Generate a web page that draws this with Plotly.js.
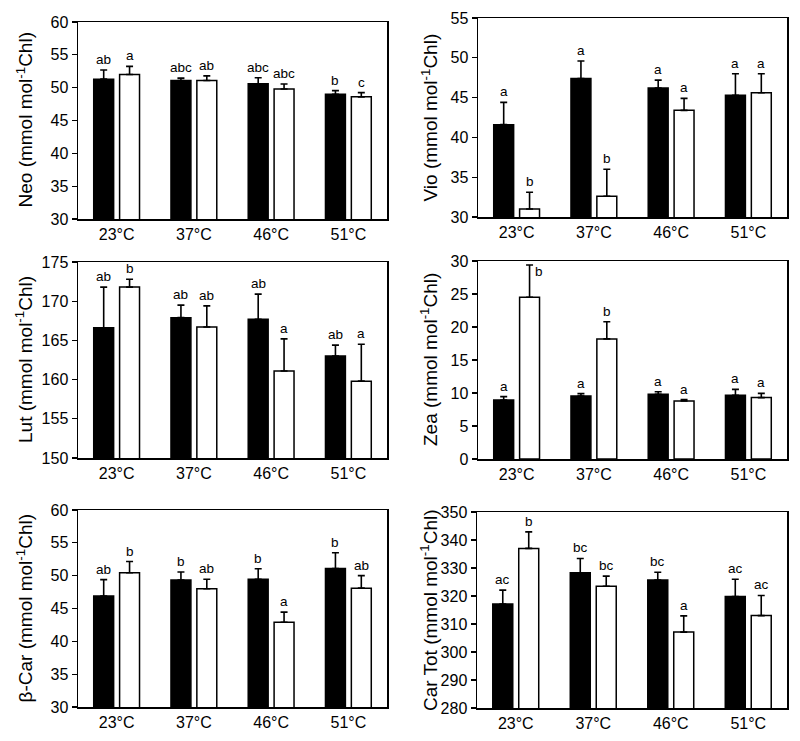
<!DOCTYPE html>
<html>
<head>
<meta charset="utf-8">
<script src="https://cdn.plot.ly/plotly-3.0.1.min.js"></script>
<style>html,body{margin:0;padding:0;background:#fff;}#chart{width:800px;height:741px;}</style>
</head>
<body>
<div id="chart"></div>
<script>
// ---- data ----
const categories = ['23°C', '37°C', '46°C', '51°C'];

const neoDark = [51.3, 51.1, 50.6, 49.0];
const neoDarkErr = [1.4, 0.35, 0.9, 0.55];
const neoLight = [52.0, 51.1, 49.8, 48.6];
const neoLightErr = [1.25, 0.7, 0.75, 0.65];
const neoDarkLbl = ['ab', 'abc', 'abc', 'b'];
const neoLightLbl = ['a', 'ab', 'abc', 'c'];

const vioDark = [41.6, 47.4, 46.2, 45.3];
const vioDarkErr = [2.8, 2.2, 1.0, 2.7];
const vioLight = [31.0, 32.6, 43.4, 45.6];
const vioLightErr = [2.1, 3.4, 1.5, 2.4];
const vioDarkLbl = ['a', 'a', 'a', 'a'];
const vioLightLbl = ['b', 'b', 'a', 'a'];

const lutDark = [166.6, 167.9, 167.7, 163.0];
const lutDarkErr = [5.2, 1.6, 3.2, 1.4];
const lutLight = [171.8, 166.7, 161.1, 159.8];
const lutLightErr = [1.0, 2.7, 4.1, 4.7];
const lutDarkLbl = ['ab', 'ab', 'ab', 'ab'];
const lutLightLbl = ['b', 'ab', 'a', 'a'];

const zeaDark = [8.95, 9.55, 9.8, 9.65];
const zeaDarkErr = [0.5, 0.35, 0.4, 0.9];
const zeaLight = [24.5, 18.2, 8.8, 9.3];
const zeaLightErr = [4.9, 2.6, 0.2, 0.65];
const zeaDarkLbl = ['a', 'a', 'a', 'a'];
const zeaLightLbl = ['b', 'b', 'a', 'a'];

const carDark = [46.9, 49.35, 49.45, 51.1];
const carDarkErr = [2.5, 1.2, 1.6, 2.4];
const carLight = [50.45, 48.0, 42.9, 48.1];
const carLightErr = [1.7, 1.45, 1.55, 1.9];
const carDarkLbl = ['ab', 'b', 'b', 'b'];
const carLightLbl = ['b', 'ab', 'a', 'ab'];

const totDark = [317.1, 328.3, 325.7, 319.8];
const totDarkErr = [5.0, 5.1, 2.8, 6.2];
const totLight = [337.0, 323.5, 307.1, 313.0];
const totLightErr = [5.9, 3.6, 5.8, 7.2];
const totDarkLbl = ['ac', 'bc', 'bc', 'ac'];
const totLightLbl = ['b', 'bc', 'a', 'ac'];

const panelTitles = [
  'Neo (mmol mol<sup>-1</sup>Chl)',
  'Vio (mmol mol<sup>-1</sup>Chl)',
  'Lut (mmol mol<sup>-1</sup>Chl)',
  'Zea (mmol mol<sup>-1</sup>Chl)',
  'β-Car (mmol mol<sup>-1</sup>Chl)',
  'Car Tot (mmol mol<sup>-1</sup>Chl)'
];
const yRanges = [[30, 60], [30, 55], [150, 175], [0, 30], [30, 60], [280, 350]];
const yDticks = [5, 5, 5, 5, 5, 10];

// ---- build ----
const panels = [
  [neoDark, neoDarkErr, neoLight, neoLightErr, neoDarkLbl, neoLightLbl],
  [vioDark, vioDarkErr, vioLight, vioLightErr, vioDarkLbl, vioLightLbl],
  [lutDark, lutDarkErr, lutLight, lutLightErr, lutDarkLbl, lutLightLbl],
  [zeaDark, zeaDarkErr, zeaLight, zeaLightErr, zeaDarkLbl, zeaLightLbl],
  [carDark, carDarkErr, carLight, carLightErr, carDarkLbl, carLightLbl],
  [totDark, totDarkErr, totLight, totLightErr, totDarkLbl, totLightLbl]
];

const W = 800, H = 741;
// pixel boxes of plot areas [left, right, top, bottom]
const boxes = [
  [78, 387, 22, 219], [478, 787, 18, 217],
  [78, 387, 262, 458], [478, 787, 261, 459],
  [78, 387, 510, 707], [477, 787, 512, 708]
];
// horizontal pixel centre of the y titles, per column
const titleX = [24, 429];

const FONT = 'Liberation Sans, Arial, Helvetica, sans-serif';
const bargap = 0.33, bargroupgap = 0.23;
const offset = (1 - bargap) / 4;

const data = [];
const annotations = [];
const layout = {
  width: W, height: H,
  margin: {l: 0, r: 0, t: 0, b: 0},
  paper_bgcolor: '#fff', plot_bgcolor: '#fff',
  showlegend: false,
  barmode: 'group', bargap: bargap, bargroupgap: bargroupgap,
  font: {family: FONT, color: '#000', size: 16},
  annotations: annotations
};

panels.forEach((p, i) => {
  const n = i + 1;
  const xa = 'x' + (n === 1 ? '' : n), ya = 'y' + (n === 1 ? '' : n);
  const [dark, darkErr, light, lightErr, darkLbl, lightLbl] = p;
  const zeros = dark.map(() => 0);
  const errStyle = (arr) => ({type: 'data', symmetric: false, array: arr, arrayminus: zeros,
    color: '#000', thickness: 1.6, width: 3.5, visible: true});
  data.push({type: 'bar', x: categories, y: dark, xaxis: xa, yaxis: ya,
    marker: {color: '#000', line: {color: '#000', width: 1.5}}, error_y: errStyle(darkErr)});
  data.push({type: 'bar', x: categories, y: light, xaxis: xa, yaxis: ya,
    marker: {color: '#fff', line: {color: '#000', width: 1.5}}, error_y: errStyle(lightErr)});

  const b = boxes[i];
  const xKey = 'xaxis' + (n === 1 ? '' : n), yKey = 'yaxis' + (n === 1 ? '' : n);
  layout[xKey] = {
    domain: [b[0] / W, b[1] / W], anchor: ya, type: 'category',
    range: [-0.5, 3.5], showline: true, mirror: true, linecolor: '#000', linewidth: 1.5,
    ticks: '', showgrid: false, zeroline: false, fixedrange: true,
    tickfont: {family: FONT, size: 16, color: '#000'}
  };
  layout[yKey] = {
    domain: [1 - b[3] / H, 1 - b[2] / H], anchor: xa,
    range: yRanges[i], dtick: yDticks[i], tick0: 0,
    showline: true, mirror: true, linecolor: '#000', linewidth: 1.5,
    ticks: 'outside', ticklen: 5, tickwidth: 1.3, tickcolor: '#000',
    showgrid: false, zeroline: false, fixedrange: true,
    tickfont: {family: FONT, size: 16, color: '#000'}
  };

  // y-axis title (placed at a fixed column position like the original)
  annotations.push({
    xref: 'paper', yref: 'paper',
    x: titleX[i % 2] / W, y: 1 - (b[2] + b[3]) / 2 / H,
    xanchor: 'center', yanchor: 'middle', textangle: -90,
    text: panelTitles[i], showarrow: false,
    font: {family: FONT, size: 19, color: '#000'}
  });

  const yr = yRanges[i];
  const span = yr[1] - yr[0];
  const addLbl = (vals, errs, lbls, side) => {
    vals.forEach((v, k) => {
      const top = v + errs[k];
      const crowded = top + 0.07 * span > yr[1];
      annotations.push({
        xref: xa, yref: ya, x: k + side * offset, y: top,
        text: lbls[k], showarrow: false,
        xanchor: crowded ? 'left' : 'center',
        yanchor: crowded ? 'top' : 'bottom',
        xshift: crowded ? 3 : 0, yshift: crowded ? 3 : 1,
        font: {family: FONT, size: 13.5, color: '#000'}
      });
    });
  };
  addLbl(dark, darkErr, darkLbl, -1);
  addLbl(light, lightErr, lightLbl, 1);
});

Plotly.newPlot('chart', data, layout, {displayModeBar: false, staticPlot: true});
</script>
</body>
</html>
